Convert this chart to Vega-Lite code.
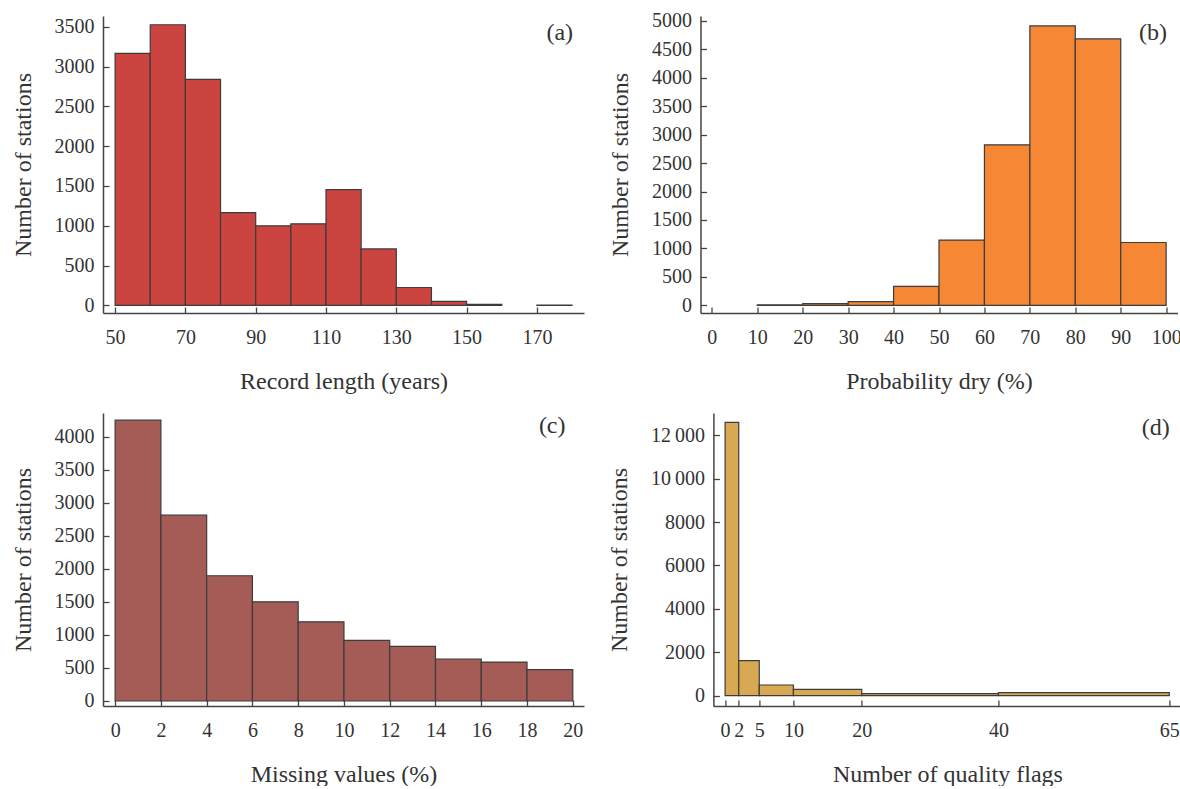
{
  "$schema": "https://vega.github.io/schema/vega-lite/v6.json",
  "background": "white",
  "padding": {"left": 11, "top": 10, "right": 0, "bottom": 0},
  "config": {
    "font": "Liberation Serif",
    "view": {"stroke": null},
    "axis": {
      "grid": false,
      "domainColor": "#444444",
      "domainWidth": 1.5,
      "tickColor": "#444444",
      "tickWidth": 1.3,
      "tickSize": -6,
      "tickCount": 30,
      "labelFont": "Liberation Serif",
      "labelFontSize": 20,
      "labelColor": "#333333",
      "labelOverlap": false,
      "titleFont": "Liberation Serif",
      "titleFontSize": 24,
      "titleFontWeight": "normal",
      "titleColor": "#333333",
      "format": "d"
    },
    "axisX": {"labelPadding": 20, "titlePadding": 22},
    "axisY": {"labelPadding": 15, "titlePadding": 18.7}
  },
  "spacing": 20,
  "vconcat": [
    {
      "bounds": "flush",
      "spacing": 116.5,
      "hconcat": [
        {
          "width": 481,
          "height": 297,
          "layer": [
            {
              "data": {"values": [
                {"bin_start": 50, "bin_end": 60, "count": 3165},
                {"bin_start": 60, "bin_end": 70, "count": 3525},
                {"bin_start": 70, "bin_end": 80, "count": 2840},
                {"bin_start": 80, "bin_end": 90, "count": 1165},
                {"bin_start": 90, "bin_end": 100, "count": 1000},
                {"bin_start": 100, "bin_end": 110, "count": 1025},
                {"bin_start": 110, "bin_end": 120, "count": 1455},
                {"bin_start": 120, "bin_end": 130, "count": 710},
                {"bin_start": 130, "bin_end": 140, "count": 225},
                {"bin_start": 140, "bin_end": 150, "count": 50},
                {"bin_start": 150, "bin_end": 160, "count": 15},
                {"bin_start": 170, "bin_end": 180, "count": 3}
              ]},
              "mark": {"type": "rect", "fill": "#CC4440", "stroke": "#3c3c3c", "strokeWidth": 1.2},
              "encoding": {
                "x": {"field": "bin_start", "type": "quantitative",
                  "scale": {"domain": [46.56, 183.4], "nice": false, "zero": false},
                  "axis": {"values": [50, 70, 90, 110, 130, 150, 170], "title": "Record length (years)"}},
                "x2": {"field": "bin_end"},
                "y": {"field": "count", "type": "quantitative",
                  "scale": {"domain": [-95, 3635], "nice": false, "zero": false},
                  "axis": {"values": [0, 500, 1000, 1500, 2000, 2500, 3000, 3500], "title": "Number of stations"}},
                "y2": {"datum": 0}
              }
            },
            {
              "data": {"values": [{"label": "(a)"}]},
              "mark": {"type": "text", "font": "Liberation Serif", "fontSize": 24, "color": "#333333"},
              "encoding": {
                "x": {"datum": 176.5, "type": "quantitative"},
                "y": {"datum": 3421, "type": "quantitative"},
                "text": {"field": "label"}
              }
            }
          ]
        },
        {
          "width": 477,
          "height": 297,
          "layer": [
            {
              "data": {"values": [
                {"bin_start": 10, "bin_end": 20, "count": 10},
                {"bin_start": 20, "bin_end": 30, "count": 30},
                {"bin_start": 30, "bin_end": 40, "count": 65},
                {"bin_start": 40, "bin_end": 50, "count": 335},
                {"bin_start": 50, "bin_end": 60, "count": 1147},
                {"bin_start": 60, "bin_end": 70, "count": 2820},
                {"bin_start": 70, "bin_end": 80, "count": 4907},
                {"bin_start": 80, "bin_end": 90, "count": 4680},
                {"bin_start": 90, "bin_end": 100, "count": 1105}
              ]},
              "mark": {"type": "rect", "fill": "#F58735", "stroke": "#3c3c3c", "strokeWidth": 1.2},
              "encoding": {
                "x": {"field": "bin_start", "type": "quantitative",
                  "scale": {"domain": [-2.5, 102.5], "nice": false, "zero": false},
                  "axis": {"values": [0, 10, 20, 30, 40, 50, 60, 70, 80, 90, 100], "title": "Probability dry (%)"}},
                "x2": {"field": "bin_end"},
                "y": {"field": "count", "type": "quantitative",
                  "scale": {"domain": [-133, 5082], "nice": false, "zero": false},
                  "axis": {"values": [0, 500, 1000, 1500, 2000, 2500, 3000, 3500, 4000, 4500, 5000], "title": "Number of stations"}},
                "y2": {"datum": 0}
              }
            },
            {
              "data": {"values": [{"label": "(b)"}]},
              "mark": {"type": "text", "font": "Liberation Serif", "fontSize": 24, "color": "#333333"},
              "encoding": {
                "x": {"datum": 97.1, "type": "quantitative"},
                "y": {"datum": 4784, "type": "quantitative"},
                "text": {"field": "label"}
              }
            }
          ]
        }
      ]
    },
    {
      "bounds": "flush",
      "spacing": 129.4,
      "hconcat": [
        {
          "width": 481,
          "height": 293,
          "layer": [
            {
              "data": {"values": [
                {"bin_start": 0, "bin_end": 2, "count": 4255},
                {"bin_start": 2, "bin_end": 4, "count": 2815},
                {"bin_start": 4, "bin_end": 6, "count": 1897},
                {"bin_start": 6, "bin_end": 8, "count": 1503},
                {"bin_start": 8, "bin_end": 10, "count": 1200},
                {"bin_start": 10, "bin_end": 12, "count": 918},
                {"bin_start": 12, "bin_end": 14, "count": 827},
                {"bin_start": 14, "bin_end": 16, "count": 636},
                {"bin_start": 16, "bin_end": 18, "count": 590},
                {"bin_start": 18, "bin_end": 20, "count": 474}
              ]},
              "mark": {"type": "rect", "fill": "#A55C57", "stroke": "#3c3c3c", "strokeWidth": 1.2},
              "encoding": {
                "x": {"field": "bin_start", "type": "quantitative",
                  "scale": {"domain": [-0.53, 20.49], "nice": false, "zero": false},
                  "axis": {"values": [0, 2, 4, 6, 8, 10, 12, 14, 16, 18, 20], "title": "Missing values (%)"}},
                "x2": {"field": "bin_end"},
                "y": {"field": "count", "type": "quantitative",
                  "scale": {"domain": [-76, 4363], "nice": false, "zero": false},
                  "axis": {"values": [0, 500, 1000, 1500, 2000, 2500, 3000, 3500, 4000], "title": "Number of stations"}},
                "y2": {"datum": 0}
              }
            },
            {
              "mark": {"type": "rule", "color": "#444444", "strokeWidth": 1.3},
              "encoding": {
                "x": {"datum": -0.4, "type": "quantitative"},
                "x2": {"datum": 21.9},
                "y": {"datum": 0, "type": "quantitative"}
              }
            },
            {
              "data": {"values": [{"label": "(c)"}]},
              "mark": {"type": "text", "font": "Liberation Serif", "fontSize": 24, "color": "#333333"},
              "encoding": {
                "x": {"datum": 19.1, "type": "quantitative"},
                "y": {"datum": 4162, "type": "quantitative"},
                "text": {"field": "label"}
              }
            }
          ]
        },
        {
          "width": 468,
          "height": 293,
          "layer": [
            {
              "data": {"values": [
                {"bin_start": 0, "bin_end": 2, "count": 12600},
                {"bin_start": 2, "bin_end": 5, "count": 1613},
                {"bin_start": 5, "bin_end": 10, "count": 490},
                {"bin_start": 10, "bin_end": 20, "count": 285},
                {"bin_start": 20, "bin_end": 40, "count": 90},
                {"bin_start": 40, "bin_end": 65, "count": 140}
              ]},
              "mark": {"type": "rect", "fill": "#D8A952", "stroke": "#3c3c3c", "strokeWidth": 1.2},
              "encoding": {
                "x": {"field": "bin_start", "type": "quantitative",
                  "scale": {"domain": [-1.71, 66.77], "nice": false, "zero": false},
                  "axis": {"values": [0, 2, 5, 10, 20, 40, 65], "title": "Number of quality flags"}},
                "x2": {"field": "bin_end"},
                "y": {"field": "count", "type": "quantitative",
                  "scale": {"domain": [-479, 13029], "nice": false, "zero": false},
                  "axis": {"values": [0, 2000, 4000, 6000, 8000, 10000, 12000], "title": "Number of stations",
                    "labelExpr": "datum.value >= 10000 ? replace(format(datum.value, ','), ',', '\u2009') : format(datum.value, 'd')"}},
                "y2": {"datum": 0}
              }
            },
            {
              "data": {"values": [{"label": "(d)"}]},
              "mark": {"type": "text", "font": "Liberation Serif", "fontSize": 24, "color": "#333333"},
              "encoding": {
                "x": {"datum": 63.0, "type": "quantitative"},
                "y": {"datum": 12337, "type": "quantitative"},
                "text": {"field": "label"}
              }
            }
          ]
        }
      ]
    }
  ]
}
